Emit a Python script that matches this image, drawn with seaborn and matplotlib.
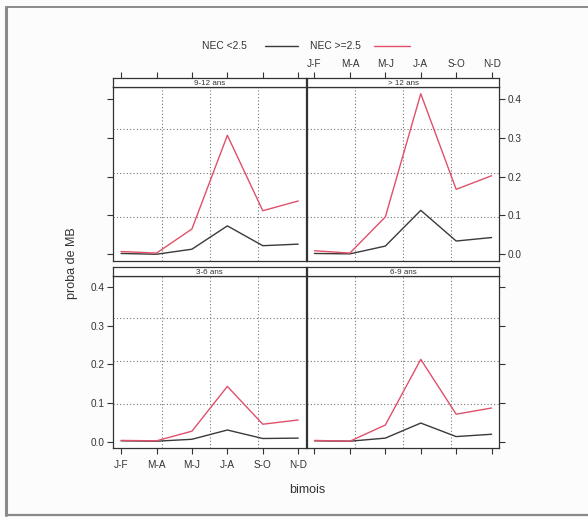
import numpy as np
import pandas as pd
import matplotlib
matplotlib.use("Agg")
import matplotlib.pyplot as plt
import seaborn as sns

sns.set_theme(style="white")
plt.rcParams['font.family'] = ['Liberation Sans', 'DejaVu Sans']

months = ["J-F", "M-A", "M-J", "J-A", "S-O", "N-D"]
groups = ["NEC <2.5", "NEC >=2.5"]
panels = ["3-6 ans", "6-9 ans", "9-12 ans", "> 12 ans"]

low_3_6 = [0.002, 0.001, 0.006, 0.030, 0.008, 0.009]
high_3_6 = [0.003, 0.002, 0.027, 0.143, 0.045, 0.056]
low_6_9 = [0.002, 0.001, 0.009, 0.048, 0.013, 0.019]
high_6_9 = [0.003, 0.001, 0.043, 0.213, 0.071, 0.087]
low_9_12 = [0.002, 0.000, 0.013, 0.073, 0.022, 0.026]
high_9_12 = [0.007, 0.003, 0.065, 0.306, 0.112, 0.137]
low_12 = [0.002, 0.001, 0.021, 0.113, 0.034, 0.043]
high_12 = [0.009, 0.003, 0.096, 0.413, 0.167, 0.202]

series = {
    "3-6 ans": (low_3_6, high_3_6),
    "6-9 ans": (low_6_9, high_6_9),
    "9-12 ans": (low_9_12, high_9_12),
    "> 12 ans": (low_12, high_12),
}
rows = []
for p, (lo, hi) in series.items():
    for i, m in enumerate(months):
        rows.append((p, m, i + 1, groups[0], lo[i]))
        rows.append((p, m, i + 1, groups[1], hi[i]))
df = pd.DataFrame(rows, columns=["panel", "bimois", "x", "NEC", "proba"])

yticks = [0.0, 0.1, 0.2, 0.3, 0.4]
vgrid = [2.15, 3.51, 4.86]
hgrid = [0.097, 0.209, 0.321]

W, H = 588, 517
fig = plt.figure(figsize=(W / 100, H / 100), dpi=100)
fig.patch.set_facecolor("#fcfcfc")


def fx(px):
    return px / W


def fy(py):
    return 1 - py / H


frame_c = "#8a8a8a"
fig.add_artist(plt.Line2D([fx(6), fx(6)], [fy(7), fy(515)], color=frame_c, lw=2.2,
                          transform=fig.transFigure))
fig.add_artist(plt.Line2D([fx(6), fx(588)], [fy(7), fy(7)], color=frame_c, lw=1.4,
                          transform=fig.transFigure))
fig.add_artist(plt.Line2D([fx(6), fx(588)], [fy(515), fy(515)], color=frame_c, lw=1.6,
                          transform=fig.transFigure))

colors = {groups[0]: "#3a3a3a", groups[1]: "#e0506a"}
axc = "#333333"
XL = (0.78, 6.22)
YL = (-0.0166, 0.430)

col_x = [113.3, 306.7]
pw = 192.7
strip_h = 8.8
rows_y = [(78.3, 260.7), (266.8, 448.0)]  # (strip top, panel bottom)

layout = {
    (0, 0): "9-12 ans", (0, 1): "> 12 ans",
    (1, 0): "3-6 ans", (1, 1): "6-9 ans",
}

for (r, c), name in layout.items():
    st, pb = rows_y[r]
    ptop = st + strip_h
    ax = fig.add_axes([fx(col_x[c]), fy(pb), pw / W, (pb - ptop) / H])
    sax = fig.add_axes([fx(col_x[c]), fy(ptop), pw / W, strip_h / H])
    sub = df[df.panel == name]
    for g in vgrid:
        ax.axvline(g, color="#777777", ls=(0, (1, 2)), lw=0.8, zorder=0)
    for g in hgrid:
        ax.axhline(g, color="#777777", ls=(0, (1, 2)), lw=0.8, zorder=0)
    sns.lineplot(data=sub, x="x", y="proba", hue="NEC", palette=colors,
                 hue_order=groups, ax=ax, legend=False, lw=1.0, estimator=None)
    ax.set_xlim(XL)
    ax.set_ylim(YL)
    ax.set_xlabel("")
    ax.set_ylabel("")
    ax.set_facecolor("white")
    for s in ax.spines.values():
        s.set_color(axc)
        s.set_linewidth(0.9)
    ax.set_xticks(range(1, 7))
    ax.set_yticks(yticks)
    ax.tick_params(direction="out", length=4, width=0.8, color=axc,
                   labelsize=7.2, labelcolor="#333333", pad=2)
    ax.tick_params(axis="x", bottom=(r == 1), top=False,
                   labelbottom=(r == 1 and c == 0), labeltop=False, pad=5)
    ax.set_xticklabels(months)
    ax.tick_params(axis="y", left=(c == 0), right=(c == 1),
                   labelleft=(r == 1 and c == 0), labelright=(r == 0 and c == 1))
    ax.set_yticklabels([f"{v:.1f}" for v in yticks])
    # strip
    sax.set_xlim(XL)
    sax.set_ylim(0, 1)
    sax.set_facecolor("white")
    for s in sax.spines.values():
        s.set_color(axc)
        s.set_linewidth(0.9)
    sax.set_yticks([])
    sax.set_xticks(range(1, 7))
    sax.tick_params(axis="x", bottom=False, labelbottom=False,
                    top=(r == 0), labeltop=(r == 0 and c == 1),
                    direction="out", length=4, width=0.8, color=axc,
                    labelsize=7.2, labelcolor="#333333", pad=3)
    sax.set_xticklabels(months)
    sax.text(0.5, 0.4, name, transform=sax.transAxes, ha="center",
             va="center", fontsize=5.8, color="#333333")

# legend
fig.text(fx(202), fy(46), groups[0], fontsize=7.4, va="center", ha="left", color="#333333")
fig.add_artist(plt.Line2D([fx(265), fx(298)], [fy(46), fy(46)], color=colors[groups[0]],
                          lw=1.0, transform=fig.transFigure))
fig.text(fx(310), fy(46), groups[1], fontsize=7.4, va="center", ha="left", color="#333333")
fig.add_artist(plt.Line2D([fx(374), fx(410)], [fy(46), fy(46)], color=colors[groups[1]],
                          lw=1.0, transform=fig.transFigure))

fig.text(fx(72), fy(263), "proba de MB", rotation=90, fontsize=9,
         ha="center", va="center", color="#333333")
fig.text(fx(307), fy(490), "bimois", fontsize=9, ha="center", va="center",
         color="#333333")

fig.savefig("out.png", dpi=100, facecolor=fig.get_facecolor())
